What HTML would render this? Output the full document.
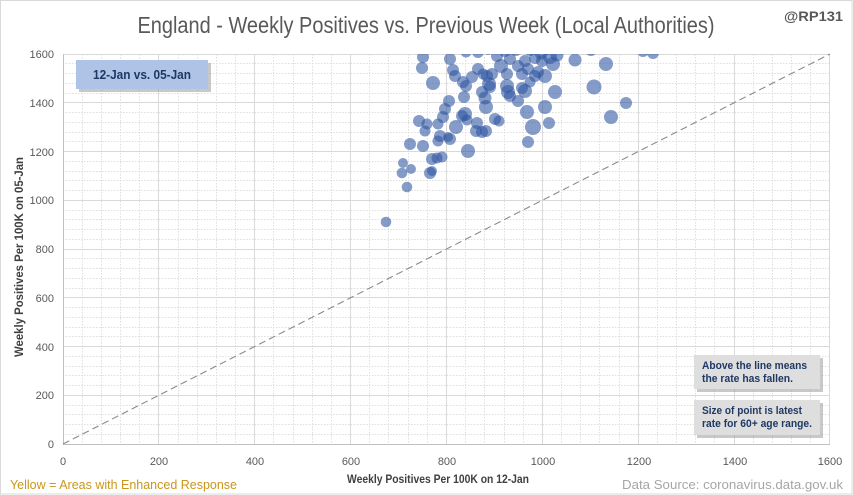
<!DOCTYPE html>
<html><head><meta charset="utf-8"><style>
html,body{margin:0;padding:0;background:#fff;}
svg{display:block;font-family:"Liberation Sans",sans-serif;}
</style></head><body>
<svg width="853" height="495" viewBox="0 0 853 495" xmlns="http://www.w3.org/2000/svg">
<defs>
<clipPath id="pc"><rect x="63" y="54" width="767" height="390"/></clipPath>
</defs>
<rect x="0" y="0" width="853" height="495" fill="#fff"/>
<rect x="0.5" y="0.5" width="851.5" height="493.5" fill="none" stroke="#d9d9d9" stroke-width="1"/>

<!-- minor grid -->
<path fill="none" stroke="#dedede" stroke-width="1" stroke-dasharray="1.5,1.5" d="
M82.5 54V444 M101.5 54V444 M120.5 54V444 M139.5 54V444
M178.5 54V444 M197.5 54V444 M216.5 54V444 M235.5 54V444
M273.5 54V444 M293.5 54V444 M312.5 54V444 M331.5 54V444
M369.5 54V444 M388.5 54V444 M408.5 54V444 M427.5 54V444
M465.5 54V444 M484.5 54V444 M504.5 54V444 M523.5 54V444
M561.5 54V444 M580.5 54V444 M599.5 54V444 M619.5 54V444
M657.5 54V444 M676.5 54V444 M695.5 54V444 M714.5 54V444
M753.5 54V444 M772.5 54V444 M791.5 54V444 M810.5 54V444
M63 434.5H830 M63 424.5H830 M63 414.5H830 M63 405.5H830
M63 385.5H830 M63 375.5H830 M63 366.5H830 M63 356.5H830
M63 336.5H830 M63 327.5H830 M63 317.5H830 M63 307.5H830
M63 288.5H830 M63 278.5H830 M63 268.5H830 M63 258.5H830
M63 239.5H830 M63 229.5H830 M63 219.5H830 M63 210.5H830
M63 190.5H830 M63 180.5H830 M63 171.5H830 M63 161.5H830
M63 141.5H830 M63 132.5H830 M63 122.5H830 M63 112.5H830
M63 93.5H830 M63 83.5H830 M63 73.5H830 M63 63.5H830"/>
<!-- major grid -->
<path fill="none" stroke="#d9d9d9" stroke-width="1" d="
M158.5 54V444 M254.5 54V444 M350.5 54V444 M446.5 54V444 M542.5 54V444 M638.5 54V444 M734.5 54V444 M829.5 54V444
M63 395.5H830 M63 346.5H830 M63 297.5H830 M63 249.5H830 M63 200.5H830 M63 151.5H830 M63 102.5H830 M63 54.5H830"/>
<!-- axes -->
<path fill="none" stroke="#bfbfbf" stroke-width="1" d="M63.5 54V444.5 M63 444.5H830"/>

<!-- diagonal -->
<line x1="63" y1="444" x2="830" y2="54" stroke="#8a8a8a" stroke-width="1.1" stroke-dasharray="7,4"/>

<!-- bubbles -->
<g clip-path="url(#pc)" fill="#2f54a0" fill-opacity="0.58">
<circle cx="386" cy="222" r="5.3"/>
<circle cx="407" cy="187" r="5.3"/>
<circle cx="402" cy="173" r="5.3"/>
<circle cx="411" cy="169" r="5"/>
<circle cx="403" cy="163" r="5"/>
<circle cx="410" cy="144" r="6"/>
<circle cx="423" cy="146" r="6"/>
<circle cx="430" cy="173" r="6"/>
<circle cx="432" cy="171" r="5"/>
<circle cx="432" cy="159" r="6"/>
<circle cx="437" cy="158" r="5.5"/>
<circle cx="442" cy="157" r="5.5"/>
<circle cx="419" cy="121" r="6"/>
<circle cx="427" cy="124" r="5.5"/>
<circle cx="425" cy="131" r="5.5"/>
<circle cx="440" cy="136" r="6"/>
<circle cx="438" cy="141" r="5.5"/>
<circle cx="450" cy="139" r="6"/>
<circle cx="448" cy="137" r="5"/>
<circle cx="438" cy="124" r="5.5"/>
<circle cx="443" cy="117" r="6"/>
<circle cx="445" cy="109" r="6"/>
<circle cx="456" cy="127" r="7"/>
<circle cx="468" cy="151" r="7"/>
<circle cx="464" cy="97" r="6"/>
<circle cx="449" cy="101" r="6"/>
<circle cx="462" cy="116" r="6"/>
<circle cx="465" cy="114" r="7"/>
<circle cx="467" cy="120" r="5.5"/>
<circle cx="477" cy="123" r="6"/>
<circle cx="476" cy="131" r="6"/>
<circle cx="482" cy="132" r="6"/>
<circle cx="486" cy="131" r="6"/>
<circle cx="495" cy="119" r="6"/>
<circle cx="499" cy="121" r="5.5"/>
<circle cx="486" cy="107" r="7"/>
<circle cx="485" cy="98" r="6.5"/>
<circle cx="482" cy="92" r="6"/>
<circle cx="423" cy="57" r="6"/>
<circle cx="422" cy="68" r="6"/>
<circle cx="433" cy="83" r="7"/>
<circle cx="450" cy="59" r="6"/>
<circle cx="453" cy="70" r="6"/>
<circle cx="455" cy="76" r="6"/>
<circle cx="463" cy="82" r="6"/>
<circle cx="466" cy="86" r="6"/>
<circle cx="472" cy="77" r="6"/>
<circle cx="478" cy="69" r="6"/>
<circle cx="483" cy="74" r="5.5"/>
<circle cx="487" cy="76" r="6"/>
<circle cx="489" cy="84" r="7"/>
<circle cx="490" cy="87" r="6"/>
<circle cx="492" cy="74" r="6"/>
<circle cx="501" cy="66" r="7"/>
<circle cx="507" cy="74" r="6"/>
<circle cx="507" cy="86" r="7"/>
<circle cx="508" cy="92" r="7"/>
<circle cx="510" cy="96" r="6"/>
<circle cx="510" cy="59" r="6"/>
<circle cx="518" cy="66" r="6"/>
<circle cx="525" cy="61" r="6"/>
<circle cx="528" cy="69" r="6"/>
<circle cx="522" cy="74" r="6"/>
<circle cx="518" cy="101" r="6"/>
<circle cx="525" cy="91" r="7"/>
<circle cx="522" cy="88" r="6"/>
<circle cx="535" cy="76" r="6"/>
<circle cx="538" cy="72" r="6"/>
<circle cx="545" cy="76" r="7"/>
<circle cx="530" cy="82" r="5.5"/>
<circle cx="527" cy="112" r="7"/>
<circle cx="533" cy="127" r="8"/>
<circle cx="528" cy="142" r="6"/>
<circle cx="545" cy="107" r="7"/>
<circle cx="549" cy="123" r="6"/>
<circle cx="555" cy="92" r="7"/>
<circle cx="553" cy="64" r="7"/>
<circle cx="550" cy="57" r="7"/>
<circle cx="542" cy="61" r="6"/>
<circle cx="557" cy="55" r="6.5"/>
<circle cx="541" cy="53" r="6.5"/>
<circle cx="546" cy="49" r="6"/>
<circle cx="553" cy="46" r="6"/>
<circle cx="575" cy="60" r="6.5"/>
<circle cx="606" cy="64" r="7"/>
<circle cx="594" cy="87" r="7.5"/>
<circle cx="611" cy="117" r="7"/>
<circle cx="626" cy="103" r="6"/>
<circle cx="653" cy="53" r="6"/>
<circle cx="643" cy="51" r="6"/>
<circle cx="478" cy="52" r="6"/>
<circle cx="466" cy="52" r="5.5"/>
<circle cx="505" cy="51" r="6"/>
<circle cx="516" cy="50" r="6"/>
<circle cx="530" cy="50" r="6"/>
<circle cx="560" cy="48" r="6"/>
<circle cx="497" cy="56" r="6"/>
<circle cx="535" cy="58" r="6"/>
<circle cx="591" cy="50" r="6"/>
<circle cx="488" cy="50" r="5"/>
<circle cx="580" cy="47" r="6"/>
</g>

<!-- title -->
<text x="426" y="33" text-anchor="middle" font-size="23" fill="#595959" textLength="577" lengthAdjust="spacingAndGlyphs">England - Weekly Positives vs. Previous Week (Local Authorities)</text>
<text x="843" y="21" text-anchor="end" font-size="14" font-weight="bold" fill="#595959" textLength="59" lengthAdjust="spacingAndGlyphs">@RP131</text>

<!-- y ticks -->
<g font-size="11" fill="#595959" text-anchor="end">
<text x="54" y="448">0</text>
<text x="54" y="399">200</text>
<text x="54" y="351">400</text>
<text x="54" y="302">600</text>
<text x="54" y="253">800</text>
<text x="54" y="204">1000</text>
<text x="54" y="156">1200</text>
<text x="54" y="107">1400</text>
<text x="54" y="58">1600</text>
</g>
<!-- x ticks -->
<g font-size="11" fill="#595959" text-anchor="middle">
<text x="63" y="465">0</text>
<text x="159" y="465">200</text>
<text x="255" y="465">400</text>
<text x="351" y="465">600</text>
<text x="447" y="465">800</text>
<text x="543" y="465">1000</text>
<text x="639" y="465">1200</text>
<text x="735" y="465">1400</text>
<text x="830" y="465">1600</text>
</g>

<!-- axis titles -->
<text x="438" y="483" text-anchor="middle" font-size="11.5" font-weight="bold" fill="#404040" textLength="182" lengthAdjust="spacingAndGlyphs">Weekly Positives Per 100K on 12-Jan</text>
<text transform="translate(23,257) rotate(-90)" x="0" y="0" text-anchor="middle" font-size="11.5" font-weight="bold" fill="#404040" textLength="200" lengthAdjust="spacingAndGlyphs">Weekly Positives Per 100K on 05-Jan</text>

<!-- footer -->
<text x="10" y="489" font-size="13" fill="#c9961c" textLength="227" lengthAdjust="spacingAndGlyphs">Yellow = Areas with Enhanced Response</text>
<text x="843" y="489" text-anchor="end" font-size="13" fill="#a6a6a6" textLength="221" lengthAdjust="spacingAndGlyphs">Data Source: coronavirus.data.gov.uk</text>

<!-- date box -->
<rect x="79" y="63" width="132" height="29" fill="#9a9a9a" fill-opacity="0.55"/>
<rect x="76" y="60" width="132" height="29" fill="#aec3e6"/>
<text x="142" y="79" text-anchor="middle" font-size="12.5" font-weight="bold" fill="#1f3864" textLength="98" lengthAdjust="spacingAndGlyphs">12-Jan vs. 05-Jan</text>

<!-- note boxes -->
<rect x="697" y="358" width="126" height="34" fill="#9a9a9a" fill-opacity="0.55"/>
<rect x="694" y="355" width="126" height="34" fill="#dedede"/>
<text x="702" y="369" font-size="11" font-weight="bold" fill="#1f3864" textLength="105" lengthAdjust="spacingAndGlyphs">Above the line means</text>
<text x="702" y="382" font-size="11" font-weight="bold" fill="#1f3864" textLength="91" lengthAdjust="spacingAndGlyphs">the rate has fallen.</text>

<rect x="697" y="403" width="126" height="35" fill="#9a9a9a" fill-opacity="0.55"/>
<rect x="694" y="400" width="126" height="35" fill="#dedede"/>
<text x="702" y="414" font-size="11" font-weight="bold" fill="#1f3864" textLength="100" lengthAdjust="spacingAndGlyphs">Size of point is latest</text>
<text x="702" y="427" font-size="11" font-weight="bold" fill="#1f3864" textLength="110" lengthAdjust="spacingAndGlyphs">rate for 60+ age range.</text>
</svg>
</body></html>
